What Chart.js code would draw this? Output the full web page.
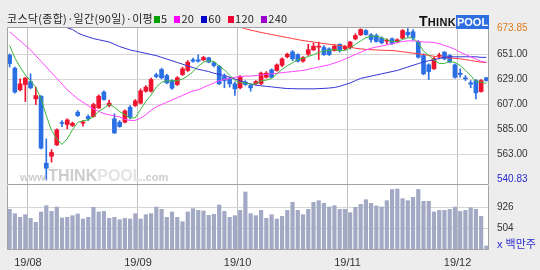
<!DOCTYPE html>
<html>
<head>
<meta charset="utf-8">
<script src="https://cdn.jsdelivr.net/npm/chart.js@4"></script>
<style>
body { margin: 0; }
#wrap { position: relative; width: 540px; height: 270px; background: #ededed; overflow: hidden; }
#title { position: absolute; left: 7px; top: 11px; font-family: "Noto Sans CJK KR", sans-serif; font-size: 11px; line-height: 14px; color: #222; white-space: nowrap; letter-spacing: 0.3px; }
#title .sq { display: inline-block; width: 6px; height: 7px; margin: 0 1px 0 7px; vertical-align: 0px; }
#title .sq.first { margin-left: 1px; }
#logo { position: absolute; left: 419px; top: 12px; height: 14px; font-family: "Liberation Sans", sans-serif; font-weight: bold; white-space: nowrap; }
#logo .think { font-size: 11px; color: #111; letter-spacing: 0.3px; }
#logo .think b { font-size: 14px; }
#logo .pool { display: inline-block; background: #2f6ee0; color: #fff; font-size: 11px; padding: 0 1px; height: 14px; line-height: 14px; }
#mark { position: absolute; left: 20px; top: 167px; font-family: "Liberation Sans", sans-serif; font-weight: bold; color: #cdcdcd; white-space: nowrap; pointer-events: none; }
#mark .big { font-size: 16px; }
#mark .pale { font-size: 16px; color: #e4e4e4; }
#mark .small { font-size: 11px; }
canvas { position: absolute; left: 0; }
#priceChart { top: 17px; }
#volumeChart { top: 185px; }
</style>
</head>
<body>
<div id="wrap">
  <canvas id="priceChart" width="540" height="168"></canvas>
  <canvas id="volumeChart" width="540" height="85"></canvas>
  <div id="title">코스닥(종합)·일간(90일)·이평<span class="sq first" style="background:#00a000"></span>5<span class="sq" style="background:#ff00ff"></span>20<span class="sq" style="background:#0000cc"></span>60<span class="sq" style="background:#ee0033"></span>120<span class="sq" style="background:#9900cc"></span>240</div>
  <div id="logo"><span class="think"><b>T</b>HINK</span><span class="pool">POOL</span></div>
  <div id="mark"><span class="small">www.</span><span class="big">THINK</span><span class="pale">POOL</span><span class="small">.com</span></div>
</div>
<script>
// trading days shown (yy/mm/dd)
var labels = [
  '19/07/26', '19/07/29', '19/07/30', '19/07/31',
  '19/08/01', '19/08/02', '19/08/05', '19/08/06', '19/08/07', '19/08/08', '19/08/09', '19/08/12', '19/08/13', '19/08/14',
  '19/08/16', '19/08/19', '19/08/20', '19/08/21', '19/08/22', '19/08/23', '19/08/26', '19/08/27', '19/08/28', '19/08/29', '19/08/30',
  '19/09/02', '19/09/03', '19/09/04', '19/09/05', '19/09/06', '19/09/09', '19/09/10', '19/09/11', '19/09/16', '19/09/17',
  '19/09/18', '19/09/19', '19/09/20', '19/09/23', '19/09/24', '19/09/25', '19/09/26', '19/09/27', '19/09/30',
  '19/10/01', '19/10/02', '19/10/04', '19/10/07', '19/10/08', '19/10/10', '19/10/11', '19/10/14', '19/10/15', '19/10/16',
  '19/10/17', '19/10/18', '19/10/21', '19/10/22', '19/10/23', '19/10/24', '19/10/25', '19/10/28', '19/10/29', '19/10/30', '19/10/31',
  '19/11/01', '19/11/04', '19/11/05', '19/11/06', '19/11/07', '19/11/08', '19/11/11', '19/11/12', '19/11/13', '19/11/14',
  '19/11/15', '19/11/18', '19/11/19', '19/11/20', '19/11/21', '19/11/22', '19/11/25', '19/11/26', '19/11/27', '19/11/28', '19/11/29',
  '19/12/02', '19/12/03', '19/12/04', '19/12/05', '19/12/06', '19/12/09'
];

var openPrices = [
  650.5, 639, 620, 624.6, 627.2, 612, 614.3, 555.4, 561.5, 571.5,
  590.9, 589.4, 588.5, 600.3, 590.6, 596.4, 596.4, 604, 617.9, 606.1,
  594.4, 591.5, 591.5, 604.6, 606.1, 608.2, 618.7, 618.7, 633.1, 637.8,
  632.5, 628.1, 624.6, 633.4, 636.9, 646.3, 646.3, 646.3, 648.1, 643.7,
  640.7, 631.6, 629.6, 625.2, 621.7, 626.7, 623.7, 625.2, 625.5, 631,
  637.5, 636.9, 641.6, 649, 653.3, 651, 645.1, 651.3, 655, 657.5,
  657.2, 656, 654.5, 660, 656, 657, 664.8, 668.3, 672.1, 668.3,
  667.7, 665.4, 662.7, 664.8, 662.4, 665.4, 670.6, 671, 662, 650.1,
  641.9, 638.4, 649.5, 653, 650.1, 641.9, 634.6, 630.5, 626.1, 628.1,
  618.4, 630.5
];
var highPrices = [
  651.5, 640, 629.6, 631, 634, 622.3, 614.9, 576.8, 567.4, 585.6,
  592.9, 594.4, 591.5, 601.7, 592.9, 597.9, 608.2, 615.5, 619, 610.8,
  598.8, 592.9, 602.3, 606.1, 611.4, 620.8, 623.7, 630.2, 634.6, 639,
  633.7, 628.7, 631.6, 639.9, 645.7, 647.8, 650.7, 649.5, 648.6, 644.5,
  641.5, 634, 631, 626.7, 632.5, 628.1, 625.2, 628.1, 635.5, 636,
  638.4, 642.8, 648.1, 652.2, 654.5, 651.6, 649.2, 660, 661, 661.9,
  658.9, 656.9, 659.8, 660.4, 658.9, 662.7, 669.2, 673.6, 673, 669.5,
  669.2, 666.5, 664.8, 665.7, 664.8, 673, 673.85, 673, 663.3, 651.6,
  642.8, 648.6, 652.2, 653.6, 651, 642.8, 638.4, 632.5, 628.1, 629,
  629, 631
];
var lowPrices = [
  640, 617, 619, 609.6, 620.8, 607, 568, 540.83, 556.3, 570.9,
  587.6, 585.6, 587.6, 596.4, 587.9, 592.9, 595.9, 603.5, 610.8, 604.9,
  581.5, 587, 590.9, 594.4, 605.2, 607.6, 617.9, 617.9, 630.5, 629.6,
  625.2, 620.2, 623.7, 632.5, 636, 644.3, 644.3, 645.4, 643.7, 640,
  624.5, 621.7, 622.3, 614.9, 620.8, 623.7, 618.7, 624.6, 624.5, 630.2,
  630.5, 636.3, 640.4, 648.1, 645.7, 644.3, 644.3, 650.1, 654.5, 646.5,
  650.1, 650.1, 654, 653.1, 655.1, 656, 663.9, 667.7, 668, 661.9,
  661.9, 660.4, 660.4, 659.8, 661.3, 664.8, 666.2, 663.5, 647.8, 633.1,
  629, 637.8, 647.2, 646.3, 643.7, 630.2, 631, 628.1, 621.7, 612,
  617.9, 627.5
];
var closePrices = [
  643, 618, 625.2, 630.2, 621.7, 614.9, 568.6, 551, 564.8, 584.7,
  590.3, 593.5, 590.6, 597.3, 591.7, 594.4, 607, 614.3, 611.4, 608.2,
  582, 587.6, 601.4, 595.9, 610.2, 619, 622.3, 629, 631.6, 630.5,
  626.1, 621.4, 630.5, 638.4, 644.3, 645.1, 645.1, 648.4, 644.3, 641.3,
  625.2, 628.1, 625.2, 620.8, 631.6, 624.6, 621.7, 627.2, 634.6, 634.6,
  631, 641.9, 647.2, 651.3, 647.2, 645.1, 648.3, 655.2, 658.3, 658.3,
  650.9, 650.9, 658.3, 654.3, 658, 662, 667.7, 673, 668.6, 664.2,
  662.4, 661.3, 663.6, 660.4, 663.9, 672.1, 668.3, 665.5, 648.6, 634,
  636, 647.2, 650.4, 647.2, 644.3, 631, 633.4, 629.6, 624.9, 617.3,
  628.1, 628.1
];

// moving averages as drawn on the reference
var ma5 = [
  659, 648, 640, 633, 627.7, 622, 612.1, 597.3, 584.2, 576.8,
  571.9, 576.9, 584.8, 591.3, 592.7, 593.5, 596.2, 600.9, 603.8, 607.1,
  604.6, 600.7, 598.1, 595, 595.4, 602.8, 609.8, 615.3, 622.4, 626.5,
  627.9, 627.7, 628, 629.4, 632.1, 635.9, 640.7, 644.3, 645.4, 644.8,
  640.9, 637.5, 632.8, 628.1, 626.2, 626.1, 624.8, 625.2, 627.9, 628.5,
  629.8, 633.9, 637.9, 641.1, 643.7, 646.5, 647.7, 649.3, 650.8, 652.9,
  654.1, 654.7, 655.3, 654.5, 654.5, 656.6, 660, 662.9, 665.8, 667.1,
  667.2, 665.9, 664, 662.4, 662.3, 664.3, 665.7, 665.8, 661, 654,
  650.3, 646.1, 643.2, 643, 645, 644, 641.3, 637.1, 632.6, 627.2,
  626.7, 625.6
];
var ma20 = [
  671, 667, 663, 659, 655, 650, 645, 640, 635, 630,
  625, 620, 616, 612, 609, 606, 603, 601, 599, 598,
  597, 596, 594, 593, 593, 595, 598, 602, 605, 607,
  609, 611, 613, 615, 617, 619, 620, 622, 624, 626,
  628, 629, 630, 631, 631.5, 632, 632, 632.5, 633, 633.5,
  634, 634.5, 635, 635.5, 636, 636.5, 637, 638, 639, 640,
  641, 642, 643.5, 645, 647, 649, 651, 653, 655, 656.5,
  657.5, 658.5, 659.5, 660.5, 661.5, 662.5, 663, 663, 662.5, 662,
  662, 661.5, 660.5, 659, 657.5, 655.5, 653, 651, 649, 647,
  645, 644
];
var ma60 = [
  689, 688, 686.5, 685, 684, 682.5, 681, 680, 678.5, 677,
  676, 674.5, 673, 670, 668, 666.5, 665, 664, 663, 662,
  660, 658, 656.5, 655, 654, 653, 652, 651, 650, 648.5,
  647, 645.5, 644, 642.5, 641, 639.5, 638, 637, 636, 634.5,
  633.5, 632.5, 631, 629.5, 628, 626.5, 625, 624, 623.5, 623,
  622.5, 622, 621.5, 621, 621, 620.8, 620.8, 620.8, 620.8, 621,
  621.2, 621.5, 622, 623, 624.5, 626, 628, 630, 631, 632,
  633, 634, 635, 636, 637, 638.5, 640, 641.5, 643, 644.5,
  645.5, 646.5, 647.5, 648.5, 649, 649, 649, 649, 649, 649,
  648.5, 648.5
];
var ma120 = [
  null, null, null, null, null, null, null, null, null, null,
  null, null, null, null, null, null, null, null, null, null,
  null, null, null, null, null, null, null, null, null, null,
  null, null, null, null, null, null, null, null, null, null,
  null, null, null, null, 675.2, 673.6, 672.5, 671.4, 670.4, 669.5,
  668.6, 667.7, 666.8, 665.9, 665, 664.1, 663.3, 662.6, 662, 661.3,
  660.6, 660, 659.5, 659, 658.3, 657.5, 656.5, 656, 655.5, 655.2,
  655, 654.8, 654.6, 654.5, 654, 653.4, 652.8, 652.2, 651.6, 651,
  650.2, 649.4, 648.8, 648.4, 648, 647.6, 647.2, 646.5, 645.8, 645,
  644.3, 644
];

// volume, 10k shares
var volumes = [
  892, 805, 731, 784, 711, 630, 838, 965, 851, 938,
  717, 731, 764, 798, 697, 731, 932, 838, 851, 711,
  731, 684, 711, 697, 805, 697, 784, 805, 938, 892,
  731, 838, 731, 644, 838, 905, 871, 858, 771, 791,
  979, 851, 731, 764, 871, 1240, 805, 764, 871, 711,
  784, 697, 751, 871, 1032, 871, 784, 892, 1032, 1066,
  1012, 938, 965, 892, 892, 825, 932, 992, 1086, 1012,
  959, 938, 1066, 1290, 1300, 1106, 1066, 1133, 1290, 1052,
  1052, 838, 871, 871, 892, 938, 851, 871, 925, 892,
  751, 155
];

var priceTicks = [540.83, 563, 585, 607, 629, 651, 673.85];
var volumeTicks = [504, 926];
var volumeUnitTick = 168;

var upColor = '#ee1430';
var downColor = '#2a6fe4';

var candleColors = closePrices.map(function (c, i) { return c >= openPrices[i] ? upColor : downColor; });
var wicks = lowPrices.map(function (l, i) { return [l, highPrices[i]]; });
var bodies = openPrices.map(function (o, i) { return [o, closePrices[i]]; });

function isMonthStart(i) {
  return i > 0 && i < labels.length && labels[i].slice(0, 5) !== labels[i - 1].slice(0, 5);
}

// white plot area with grey frame
var panelBox = {
  id: 'panelBox',
  beforeDraw: function (chart) {
    var a = chart.chartArea, c = chart.ctx;
    c.save();
    c.fillStyle = '#ffffff';
    c.fillRect(a.left, a.top, a.right - a.left, a.bottom - a.top);
    c.restore();
  },
  afterDraw: function (chart, args, opts) {
    var a = chart.chartArea, c = chart.ctx;
    c.save();
    c.strokeStyle = '#a4a4a4';
    c.lineWidth = 1;
    c.beginPath();
    c.moveTo(a.left + 0.5, a.bottom - 0.5);
    c.lineTo(a.left + 0.5, a.top + 0.5);
    if (!opts.noTop) c.lineTo(a.right - 0.5, a.top + 0.5); else c.moveTo(a.right - 0.5, a.top + 0.5);
    c.lineTo(a.right - 0.5, a.bottom - 0.5);
    c.lineTo(a.left + 0.5, a.bottom - 0.5);
    c.stroke();
    c.restore();
  }
};

var monthGrid = function (ctx) { return isMonthStart(ctx.index) ? '#c2c2c2' : 'rgba(0,0,0,0)'; };

// Price chart
var priceChart = new Chart(document.getElementById('priceChart').getContext('2d'), {
  type: 'bar',
  data: {
    labels: labels,
    datasets: [
      { type: 'line', data: ma5, borderColor: '#3cb83c', borderWidth: 1, pointRadius: 0, order: 0 },
      { type: 'line', data: ma20, borderColor: '#ff44ff', borderWidth: 1, pointRadius: 0, order: 0 },
      { type: 'line', data: ma60, borderColor: '#3434d4', borderWidth: 1, pointRadius: 0, order: 0 },
      { type: 'line', data: ma120, borderColor: '#ff3a3a', borderWidth: 1, pointRadius: 0, order: 0 },
      { data: bodies, backgroundColor: candleColors, barThickness: 4, minBarLength: 1, grouped: false, order: 1 },
      { data: wicks, backgroundColor: candleColors, barThickness: 1, grouped: false, order: 2 }
    ]
  },
  options: {
    responsive: false,
    animation: false,
    devicePixelRatio: 1,
    layout: { padding: { left: 7, top: 10, right: 0, bottom: 0 } },
    plugins: { legend: { display: false }, tooltip: { enabled: false }, panelBox: {} },
    scales: {
      x: {
        offset: true,
        ticks: { display: false, autoSkip: false },
        grid: { offset: true, drawTicks: false, color: monthGrid },
        border: { display: false },
        afterFit: function (axis) { axis.height = 0; axis.paddingLeft = 0; axis.paddingRight = 0; }
      },
      y: {
        position: 'right',
        min: 536.2,
        max: 675.2,
        afterBuildTicks: function (axis) { axis.ticks = priceTicks.map(function (v) { return { value: v }; }); },
        afterFit: function (axis) { axis.width = 51; axis.paddingTop = 0; axis.paddingBottom = 0; },
        ticks: {
          padding: 8,
          font: { family: 'Liberation Sans', size: 10 },
          color: function (ctx) {
            if (ctx.tick.value === 673.85) return '#e07a1a';
            if (ctx.tick.value === 540.83) return '#2a2ad0';
            return '#333333';
          },
          callback: function (v) { return v.toFixed(2); }
        },
        grid: {
          drawTicks: false,
          color: function (ctx) {
            return ctx.tick && (ctx.tick.value === 673.85 || ctx.tick.value === 540.83) ? 'rgba(0,0,0,0)' : '#d6d6d6';
          }
        },
        border: { display: false }
      }
    }
  },
  plugins: [panelBox]
});

// Volume chart
var volumeChart = new Chart(document.getElementById('volumeChart').getContext('2d'), {
  type: 'bar',
  data: {
    labels: labels,
    datasets: [{ data: volumes, backgroundColor: '#a2a9c4', barPercentage: 1, categoryPercentage: 0.8 }]
  },
  options: {
    responsive: false,
    animation: false,
    devicePixelRatio: 1,
    layout: { padding: { left: 7, top: 0, right: 0, bottom: 0 } },
    plugins: { legend: { display: false }, tooltip: { enabled: false }, panelBox: { noTop: true } },
    scales: {
      x: {
        offset: true,
        ticks: {
          autoSkip: false,
          maxRotation: 0,
          padding: 6,
          labelOffset: -2.6,
          color: '#333333',
          font: { family: 'Liberation Sans', size: 11 },
          callback: function (v, i) { return isMonthStart(i) ? labels[i].slice(0, 5) : ''; }
        },
        grid: { offset: true, drawTicks: false, color: monthGrid },
        border: { display: false },
        afterFit: function (axis) { axis.height = 20; axis.paddingLeft = 0; axis.paddingRight = 0; }
      },
      y: {
        position: 'right',
        min: 68,
        max: 1374,
        afterBuildTicks: function (axis) {
          axis.ticks = [volumeUnitTick].concat(volumeTicks).map(function (v) { return { value: v }; });
        },
        afterFit: function (axis) { axis.width = 51; axis.paddingTop = 0; axis.paddingBottom = 0; },
        ticks: {
          padding: 8,
          font: function (ctx) {
            return ctx.tick && ctx.tick.value === volumeUnitTick
              ? { family: 'Liberation Sans, Noto Sans CJK KR', size: 11 }
              : { family: 'Liberation Sans', size: 10 };
          },
          color: function (ctx) { return ctx.tick.value === volumeUnitTick ? '#2a2ad0' : '#333333'; },
          callback: function (v) { return v === volumeUnitTick ? 'x 백만주' : String(v); }
        },
        grid: {
          drawTicks: false,
          color: function (ctx) { return ctx.tick && ctx.tick.value === volumeUnitTick ? 'rgba(0,0,0,0)' : '#d6d6d6'; }
        },
        border: { display: false }
      }
    }
  },
  plugins: [panelBox]
});
</script>
</body>
</html>
